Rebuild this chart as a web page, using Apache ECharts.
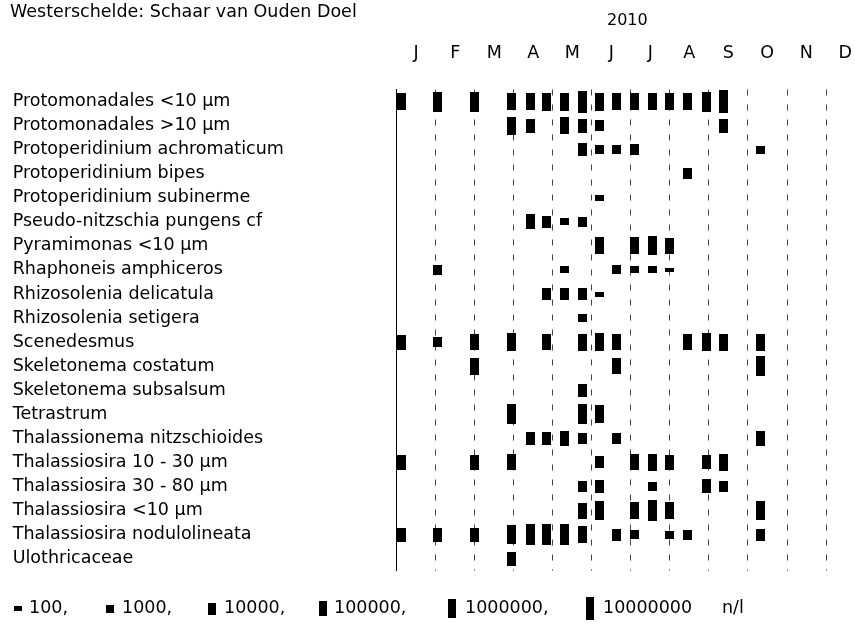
<!DOCTYPE html>
<html>
<head>
<meta charset="utf-8">
<script src="https://cdn.jsdelivr.net/npm/echarts@6/dist/echarts.min.js"></script>
<style>
  html, body { margin: 0; padding: 0; background: #fff; }
  #chart { width: 855px; height: 624px; }
</style>
</head>
<body>
<div id="chart"></div>
<script>
// Phytoplankton counts per sampling date, station Schaar van Ouden Doel (2010)
const station = 'Westerschelde: Schaar van Ouden Doel';
const year = '2010';
const monthLabels = ['J', 'F', 'M', 'A', 'M', 'J', 'J', 'A', 'S', 'O', 'N', 'D'];

const species = [
  'Protomonadales <10 µm',
  'Protomonadales >10 µm',
  'Protoperidinium achromaticum',
  'Protoperidinium bipes',
  'Protoperidinium subinerme',
  'Pseudo-nitzschia pungens cf',
  'Pyramimonas <10 µm',
  'Rhaphoneis amphiceros',
  'Rhizosolenia delicatula',
  'Rhizosolenia setigera',
  'Scenedesmus',
  'Skeletonema costatum',
  'Skeletonema subsalsum',
  'Tetrastrum',
  'Thalassionema nitzschioides',
  'Thalassiosira 10 - 30 µm',
  'Thalassiosira 30 - 80 µm',
  'Thalassiosira <10 µm',
  'Thalassiosira nodulolineata',
  'Ulothricaceae'
];

const sampleDates = [
  '2010-01-05', '2010-02-02', '2010-03-01', '2010-03-30', '2010-04-14', '2010-04-26',
  '2010-05-10', '2010-05-25', '2010-06-07', '2010-06-20', '2010-07-04', '2010-07-18',
  '2010-08-01', '2010-08-15', '2010-08-30', '2010-09-12', '2010-10-11'
];

// cells per litre, one column per sampling date (null = not found)
const _ = null;
const abundance = [
  [220000, 1500000, 1500000, 220000, 220000, 420000, 420000, 5300000, 420000, 220000, 220000, 220000, 330000, 220000, 1500000, 10000000, _],
  [_, _, _, 420000, 49000, _, 220000, 49000, 5000, _, _, _, _, _, _, 49000, _],
  [_, _, _, _, _, _, _, 26000, 1700, 1700, 6100, _, _, _, _, _, 1100],
  [_, _, _, _, _, _, _, _, _, _, _, _, _, 5000, _, _, _],
  [_, _, _, _, _, _, _, _, 210, _, _, _, _, _, _, _, _],
  [_, _, _, _, 63000, 9500, 590, 3200, _, _, _, _, _, _, _, _, _],
  [_, _, _, _, _, _, _, _, 330000, _, 330000, 960000, 120000, _, _, _, _],
  [_, 3200, _, _, _, _, 400, _, _, 1700, 400, 400, 90, _, _, _, _],
  [_, _, _, _, _, 9500, 9500, 9500, 140, _, _, _, _, _, _, _, _],
  [_, _, _, _, _, _, _, 760, _, _, _, _, _, _, _, _, _],
  [76000, 3200, 120000, 420000, _, 120000, _, 220000, 420000, 120000, _, _, _, 120000, 420000, 220000, 220000],
  [_, _, 220000, _, _, _, _, _, _, 120000, _, _, _, _, _, _, 1800000],
  [_, _, _, _, _, _, _, 18000, _, _, _, _, _, _, _, _, _],
  [_, _, _, 1800000, _, _, _, 1800000, 420000, _, _, _, _, _, _, _, _],
  [_, _, _, _, 18000, 18000, 76000, 7400, _, 7400, _, _, _, _, _, _, 76000],
  [76000, _, 76000, 120000, _, _, _, _, 9500, _, 120000, 270000, 76000, _, 41000, 270000, _],
  [_, _, _, _, _, _, _, 5000, 26000, _, _, 1700, _, _, 41000, 5000, _],
  [_, _, _, _, _, _, _, 120000, 1200000, _, 270000, 2800000, 270000, _, _, _, 1200000],
  [41000, 41000, 41000, 960000, 3400000, 3400000, 3400000, 220000, _, 9500, 1400, _, 760, 3200, _, _, 9500],
  [_, _, _, 34000, _, _, _, _, _, _, _, _, _, _, _, _, _]
];

const legendValues = [100, 1000, 10000, 100000, 1000000, 10000000];
const legendTexts = ['100,', '1000,', '10000,', '100000,', '1000000,', '10000000'];
const unitLabel = 'n/l';

const FONT = 'DejaVu Sans';
const FONT_SIZE = 17.5;

// position of a date on an axis where every month has equal width
function monthPosition(dateStr) {
  const [y, m, d] = dateStr.split('-').map(Number);
  const days = new Date(y, m, 0).getDate();
  return (m - 1) + (d - 1) / days;
}

// bar height grows with the decimal logarithm of the count
function markHeight(v) {
  return 4.5 + 3.64 * (Math.log10(v) - 2);
}

const points = [];
abundance.forEach((row, r) => {
  row.forEach((v, s) => {
    if (v != null) points.push([monthPosition(sampleDates[s]), r, v]);
  });
});

// layout: the year runs past the right edge of the page, so only the
// visible part of the month scale is given to the grid
const CHART_W = 855;
const PLOT_LEFT = 396.7;
const MONTH_PX = 39.1;
const visibleMonths = (CHART_W - PLOT_LEFT) / MONTH_PX;
const monthCentres = monthLabels.map((m, i) => i + 0.5);

const MARK_W = 9;
const LEGEND_W = 8;
const legendY = 608.5;
const legendMarkX = [14, 106, 208, 319, 448, 586];
const legendTextX = [29, 122, 224, 334, 465, 603];
const unitX = 722;

const textFont = FONT_SIZE + 'px "' + FONT + '"';
const legendGraphics = [];
legendValues.forEach((v, i) => {
  const h = Math.round(markHeight(v));
  legendGraphics.push({
    type: 'rect',
    shape: { x: legendMarkX[i], y: Math.round(legendY - h / 2), width: LEGEND_W, height: h },
    style: { fill: '#000' }
  });
  legendGraphics.push({
    type: 'text',
    x: legendTextX[i], y: legendY,
    style: { text: legendTexts[i], fill: '#000', font: textFont, verticalAlign: 'middle' }
  });
});
legendGraphics.push({
  type: 'text',
  x: unitX, y: legendY,
  style: { text: unitLabel, fill: '#000', font: textFont, verticalAlign: 'middle' }
});

const chart = echarts.init(document.getElementById('chart'), null, { renderer: 'canvas' });

chart.setOption({
  animation: false,
  backgroundColor: '#fff',
  textStyle: { fontFamily: FONT },
  title: [
    {
      text: station, left: 10, top: 3, padding: 0,
      textStyle: { fontSize: FONT_SIZE, fontWeight: 'normal', color: '#000', fontFamily: FONT }
    },
    {
      text: year, left: 607, top: 13, padding: 0,
      textStyle: { fontSize: 16, fontWeight: 'normal', color: '#000', fontFamily: FONT }
    }
  ],
  grid: { left: PLOT_LEFT, top: 89.5, right: 0, height: 481.2, containLabel: false },
  xAxis: [
    {
      type: 'value', position: 'bottom', min: 0, max: visibleMonths, interval: 1,
      axisLine: { show: false }, axisTick: { show: false }, axisLabel: { show: false },
      splitLine: {
        show: true, showMinLine: false, showMaxLine: false,
        lineStyle: { color: '#444', width: 1, type: [6, 9] }
      }
    },
    {
      type: 'value', position: 'top', min: 0, max: visibleMonths,
      axisLine: { show: false }, axisTick: { show: false }, splitLine: { show: false },
      axisLabel: {
        customValues: monthCentres,
        formatter: (v) => monthLabels[Math.floor(v)],
        margin: 27, fontSize: FONT_SIZE, color: '#000', fontFamily: FONT
      }
    }
  ],
  yAxis: {
    type: 'category', inverse: true, data: species,
    axisLine: { show: true, onZero: false, lineStyle: { color: '#000', width: 1 } },
    axisTick: { show: false }, splitLine: { show: false },
    axisLabel: {
      interval: 0, align: 'left', margin: 384, padding: [4, 0, 0, 0],
      fontSize: FONT_SIZE, color: '#000', fontFamily: FONT
    }
  },
  series: [{
    type: 'custom',
    xAxisIndex: 0,
    yAxisIndex: 0,
    data: points,
    encode: { x: 0, y: 1 },
    renderItem(params, api) {
      const c = api.coord([api.value(0), api.value(1)]);
      const h = Math.round(markHeight(api.value(2)));
      return {
        type: 'rect',
        shape: { x: Math.round(c[0] - MARK_W / 2), y: Math.round(c[1] - h / 2), width: MARK_W, height: h },
        style: { fill: '#000' }
      };
    }
  }],
  graphic: legendGraphics
});
</script>
</body>
</html>
